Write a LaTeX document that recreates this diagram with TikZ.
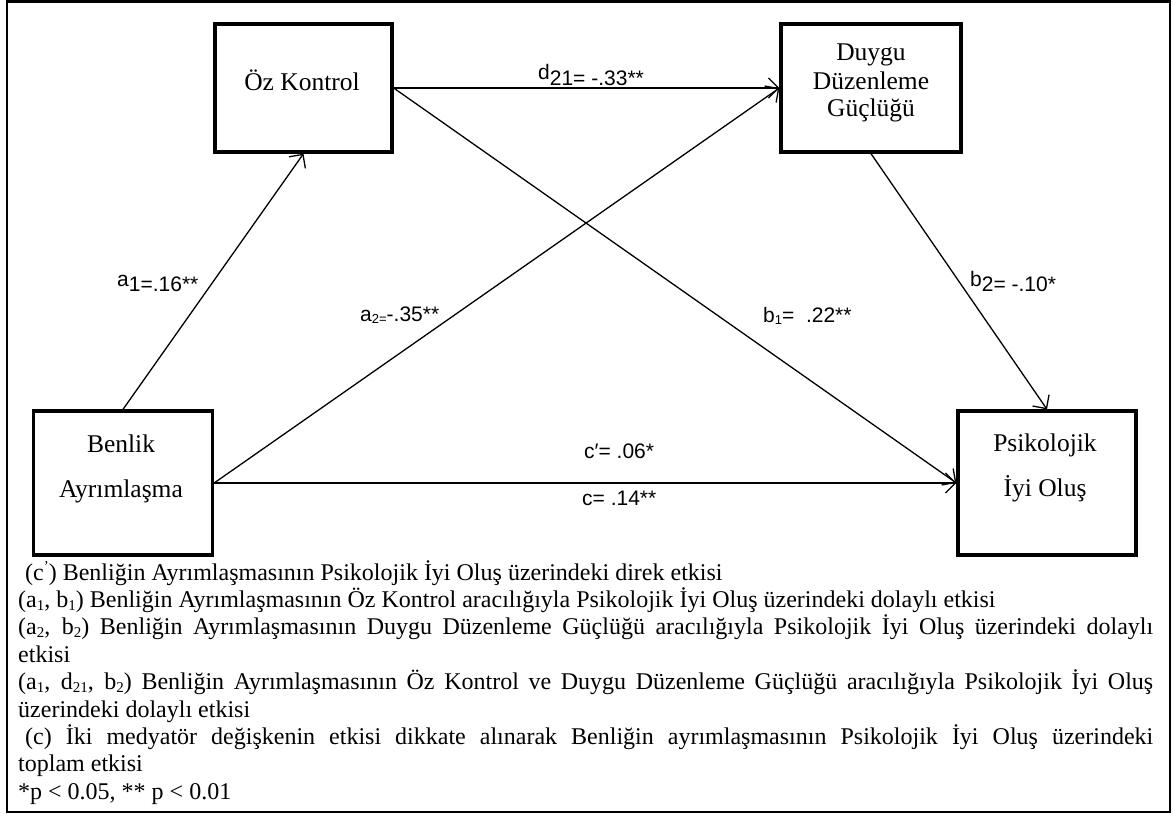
\documentclass[tikz,border=0pt]{standalone}
\usepackage{fontspec}
\setmainfont{Liberation Serif}
\newfontfamily\arialf{Liberation Sans}
\usetikzlibrary{arrows.meta}
\newcommand\lsub[1]{\raisebox{-3pt}{\fontsize{15}{15}\selectfont #1}}
\newcommand\lsup[1]{\raisebox{9pt}{\fontsize{15}{15}\selectfont #1}}
\newcommand\ssub[1]{\raisebox{-2pt}{\fontsize{13}{13}\selectfont #1}}
\begin{document}
\begin{tikzpicture}[x=1pt,y=-1pt,
  boxnode/.style={draw, line width=3.3pt, inner sep=0pt, minimum height=128pt},
  boxtxt/.style={font=\fontsize{25.5}{28}\selectfont, inner sep=0pt, anchor=base},
  lbl/.style={font=\arialf\fontsize{21}{24}\selectfont, inner sep=0pt, anchor=base west},
  arr/.style={line width=1.3pt, -{Straight Barb[length=10pt,width=20pt]}}]
\useasboundingbox (0,0) rectangle (1173,816);
\draw[line width=2.8pt] (7,1.5) rectangle (1170,812);
% boxes
\node[boxnode, minimum width=177pt] (oz) at (303.5,88) {};
\node[boxnode, minimum width=180pt] (ddg) at (871,88) {};
\node[boxnode, minimum width=179pt, minimum height=144pt] (ba) at (123,483) {};
\node[boxnode, minimum width=178pt, minimum height=144pt] (pio) at (1047,483) {};
% box texts
\node[boxtxt] (ozt) at (302,90) {Öz Kontrol};
\node[boxtxt] (ddg1) at (871,61) {Duygu};
\node[boxtxt] (ddg2) at (871,89) {Düzenleme};
\node[boxtxt] (ddg3) at (871,117) {Güçlüğü};
\node[boxtxt] (ba1) at (121,452) {Benlik};
\node[boxtxt] (ba2) at (121,497) {Ayrımlaşma};
\node[boxtxt] (pio1) at (1045,451) {Psikolojik};
\node[boxtxt] (pio2) at (1045,496) {İyi Oluş};
% connectors
\draw[arr] (ba.north) -- (oz.south);
\draw[arr] (ba.east) -- (ddg.west);
\draw[arr] (ba.east) -- (pio.west);
\draw[arr] (oz.east) -- (ddg.west);
\draw[arr] (oz.east) -- (pio.west);
\draw[arr] (ddg.south) -- (pio.north);
% labels
\node[lbl] (la1) at (117,291) {\raisebox{5pt}{a}1=.16**};
\node[lbl] (la2) at (360,321) {a\ssub{2=}-.35**};
\node[lbl] (ld) at (538,85.5) {\raisebox{6pt}{d}21= -.33**};
\node[lbl] (lb1) at (763,322) {b\ssub{1}=\ \ .22**};
\node[lbl] (lb2) at (970,291) {\raisebox{5pt}{b}2= -.10*};
\node[lbl] (lcp) at (584,458) {c′= .06*};
\node[lbl] (lc) at (582,505) {c= .14**};
% legend
\node[anchor=base west, inner sep=0pt] (legend) at (18,580) {%
\begin{minipage}[t]{1135pt}
\fontsize{24}{27.4}\selectfont
\setlength{\parindent}{0pt}%
\hspace*{7pt}(c\lsup{’}) Benliğin Ayrımlaşmasının Psikolojik İyi Oluş üzerindeki direk etkisi\\
(a\lsub{1}, b\lsub{1}) Benliğin Ayrımlaşmasının Öz Kontrol aracılığıyla Psikolojik İyi Oluş üzerindeki dolaylı etkisi\\
\makebox[\linewidth][s]{(a\lsub{2}, b\lsub{2}) Benliğin Ayrımlaşmasının Duygu Düzenleme Güçlüğü aracılığıyla Psikolojik İyi Oluş üzerindeki dolaylı}\\
etkisi\\
\makebox[\linewidth][s]{(a\lsub{1}, d\lsub{21}, b\lsub{2}) Benliğin Ayrımlaşmasının Öz Kontrol ve Duygu Düzenleme Güçlüğü aracılığıyla Psikolojik İyi Oluş}\\
üzerindeki dolaylı etkisi\\
\makebox[\linewidth][s]{\hspace*{7pt}(c) İki medyatör değişkenin etkisi dikkate alınarak Benliğin ayrımlaşmasının Psikolojik İyi Oluş üzerindeki}\\
toplam etkisi\\
\mbox{*p < 0.05, ** p < 0.01}
\end{minipage}};
\end{tikzpicture}
\end{document}
